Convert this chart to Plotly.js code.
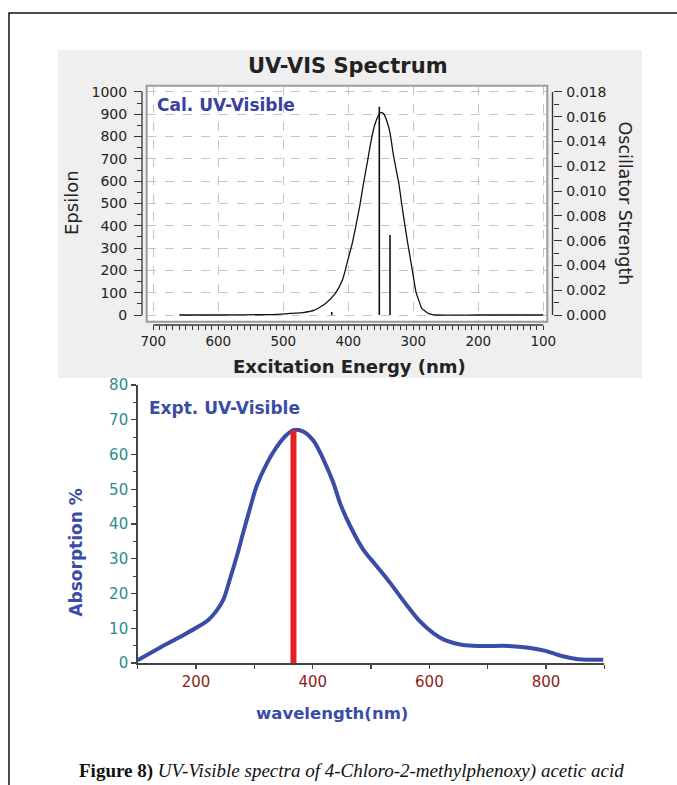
<!DOCTYPE html>
<html>
<head>
<meta charset="utf-8">
<script src="https://cdn.plot.ly/plotly-3.0.1.min.js"></script>
<style>
html,body{margin:0;padding:0;background:#fff;}
#chart{width:677px;height:785px;}
</style>
</head>
<body>
<div id="chart"></div>
<script>
// ---------- DATA ----------
// Calculated spectrum (top panel)
const calNm  = [660, 600, 520, 490, 470, 452, 435, 420, 409, 400, 394, 388, 382, 377, 371, 365, 360, 356, 352, 349, 345, 341, 336, 331, 326, 322, 318, 313, 309, 305, 300, 296, 291, 287, 282, 278, 272, 267, 200, 100];
const calEps = [0, 0, 2, 7, 11, 22, 52, 97, 157, 254, 320, 404, 495, 584, 680, 780, 845, 880, 902, 908, 900, 872, 820, 725, 646, 586, 501, 404, 329, 261, 174, 105, 61, 30, 18, 9, 3, 0, 0, 0];
// Oscillator strength sticks
const stickNm  = [425.5, 352.3, 335.8];
const stickOsc = [0.00025, 0.0168, 0.00645];

// Experimental spectrum (bottom panel)
const exptNm  = [100, 138, 178, 201, 221, 235, 247, 258, 270, 281, 293, 304, 321, 338, 355, 367, 384, 401, 418, 435, 448, 464, 486, 509, 532, 560, 583, 606, 628, 657, 691, 736, 770, 799, 827, 855, 898];
const exptAbs = [0.8, 4.4, 8.0, 10.2, 12.4, 15.0, 18.3, 24.1, 30.8, 37.6, 44.8, 51.0, 57.3, 62.1, 65.6, 67.0, 66.6, 64.0, 58.7, 52.0, 45.5, 39.5, 32.8, 28.0, 23.2, 16.9, 12.1, 8.7, 6.5, 5.2, 4.9, 4.9, 4.4, 3.5, 2.0, 1.1, 0.9];
const exptPeakNm = [367, 367];
const exptPeakAbs = [0, 67];

// Texts
const calTitle = "UV-VIS Spectrum";
const calXTitle = "Excitation Energy (nm)";
const calYTitle = "Epsilon";
const calY2Title = "Oscillator Strength";
const calLabel = "Cal. UV-Visible";
const exptLabel = "Expt. UV-Visible";
const exptXTitle = "wavelength(nm)";
const exptYTitle = "Absorption %";
const caption = "<b>Figure 8)</b> <i>UV-Visible spectra of 4-Chloro-2-methylphenoxy) acetic acid</i>";

// ---------- LAYOUT HELPERS ----------
const W = 677, H = 785;
const px = x => x / W;
const py = y => 1 - y / H;

// stick segments built from stick data
const stickX = [], stickY = [];
stickNm.forEach((v, i) => { stickX.push(v, v, null); stickY.push(0, stickOsc[i], null); });

const epsPerOsc = 1000 / 0.018;
const yRange = [-30, 1028];
const y2Range = [yRange[0] / epsPerOsc, yRange[1] / epsPerOsc];

const combTicks = [];
for (let v = 100; v <= 700; v += 10) combTicks.push(v);

const FONT = 'DejaVu Sans';
const dark = '#222';
const blue = '#3b4ca6';

const traces = [
  {x: calNm, y: calEps, xaxis: 'x', yaxis: 'y', type: 'scatter', mode: 'lines',
   line: {color: '#111', width: 1.3, shape: 'spline', smoothing: 0.5}, hoverinfo: 'skip'},
  {x: stickX, y: stickY, xaxis: 'x', yaxis: 'y2', type: 'scatter', mode: 'lines',
   line: {color: '#111', width: 1.6}, connectgaps: false, hoverinfo: 'skip'},
  {x: exptNm, y: exptAbs, xaxis: 'x2', yaxis: 'y3', type: 'scatter', mode: 'lines',
   line: {color: blue, width: 4, shape: 'spline', smoothing: 0.9}, hoverinfo: 'skip'},
  {x: exptPeakNm, y: exptPeakAbs, xaxis: 'x2', yaxis: 'y3', type: 'scatter', mode: 'lines',
   line: {color: '#e8231f', width: 6}, hoverinfo: 'skip'}
];

const layout = {
  width: W, height: H,
  margin: {l: 0, r: 0, t: 0, b: 0},
  paper_bgcolor: '#fff',
  plot_bgcolor: 'rgba(0,0,0,0)',
  showlegend: false,
  font: {family: FONT, color: dark},
  xaxis: {
    domain: [px(146.7), px(547.3)], range: [710.2, 93.8],
    anchor: 'free', position: py(325),
    showline: false, zeroline: false,
    ticks: 'outside', ticklen: 4, tickwidth: 1, tickcolor: '#333',
    tick0: 0, dtick: 100,
    minor: {tickmode: 'array', tickvals: combTicks, ticks: 'outside', ticklen: 4, tickwidth: 1, tickcolor: '#333', showgrid: false},
    showgrid: true, gridcolor: '#c4c4c4', griddash: 'dash', gridwidth: 1,
    tickfont: {family: FONT, size: 13.5, color: dark}
  },
  yaxis: {
    domain: [py(321.7), py(85.7)], range: yRange,
    anchor: 'free', position: px(142), side: 'left',
    showline: false, zeroline: false,
    ticks: 'outside', ticklen: 8, tickwidth: 1, tickcolor: '#333',
    tick0: 0, dtick: 100, ticklabelstandoff: 4,
    minor: {dtick: 50, ticks: 'outside', ticklen: 5, tickwidth: 1, tickcolor: '#333', showgrid: false},
    showgrid: true, gridcolor: '#c4c4c4', griddash: 'dash', gridwidth: 1,
    tickfont: {family: FONT, size: 14, color: dark}
  },
  yaxis2: {
    overlaying: 'y', side: 'right', range: y2Range,
    anchor: 'free', position: px(552.5),
    showline: false, zeroline: false, showgrid: false,
    ticks: 'outside', ticklen: 8, tickwidth: 1, tickcolor: '#333',
    tick0: 0, dtick: 0.002, tickformat: '.3f', ticklabelstandoff: 2,
    minor: {dtick: 0.001, ticks: 'outside', ticklen: 5, tickwidth: 1, tickcolor: '#333'},
    tickfont: {family: FONT, size: 14, color: dark}
  },
  xaxis2: {
    domain: [px(137.7), px(604.4)], range: [100, 900],
    anchor: 'y3',
    showline: true, linecolor: '#444', linewidth: 1.5, zeroline: false, showgrid: false,
    ticks: 'outside', ticklen: 4, tickwidth: 1.3, tickcolor: '#444',
    tick0: 0, dtick: 200,
    minor: {dtick: 100, ticks: 'outside', ticklen: 4, tickwidth: 1.3, tickcolor: '#444'},
    tickfont: {family: FONT, size: 15, color: '#8c2222'}
  },
  yaxis3: {
    domain: [py(663), py(385)], range: [0, 80],
    anchor: 'x2',
    showline: true, linecolor: '#444', linewidth: 1.5, zeroline: false, showgrid: false,
    ticks: 'outside', ticklen: 5, tickwidth: 1.3, tickcolor: '#444',
    tick0: 0, dtick: 10,
    minor: {dtick: 5, ticks: 'outside', ticklen: 3, tickwidth: 1.2, tickcolor: '#444'},
    tickfont: {family: FONT, size: 15, color: '#2c8c8c'}
  },
  shapes: [
    // outer page frame
    {type: 'rect', xref: 'paper', yref: 'paper', x0: px(9), x1: px(700), y0: py(13), y1: py(820),
     line: {color: '#111', width: 1.5}, fillcolor: 'rgba(0,0,0,0)', layer: 'below'},
    // gray panel
    {type: 'rect', xref: 'paper', yref: 'paper', x0: px(58), x1: px(642), y0: py(50), y1: py(378),
     line: {width: 0}, fillcolor: '#efefef', layer: 'below'},
    // white plotting area
    {type: 'rect', xref: 'paper', yref: 'paper', x0: px(146.7), x1: px(547.3), y0: py(85.7), y1: py(321.7),
     line: {width: 0}, fillcolor: '#ffffff', layer: 'below'},
    // plot frame
    {type: 'rect', xref: 'paper', yref: 'paper', x0: px(146.7), x1: px(547.3), y0: py(85.7), y1: py(321.7),
     line: {color: '#9c9c9c', width: 2}, fillcolor: 'rgba(0,0,0,0)', layer: 'above'},
    // left axis line
    {type: 'line', xref: 'paper', yref: 'y', x0: px(142), x1: px(142), y0: 0, y1: 1000,
     line: {color: '#333', width: 1.3}},
    // right axis line
    {type: 'line', xref: 'paper', yref: 'y2', x0: px(552.5), x1: px(552.5), y0: 0, y1: 0.018,
     line: {color: '#333', width: 1.3}},
    // bottom comb line
    {type: 'line', xref: 'x', yref: 'paper', x0: 700, x1: 100, y0: py(325), y1: py(325),
     line: {color: '#333', width: 1.3}}
  ],
  annotations: [
    {text: '<b>' + calTitle + '</b>', xref: 'paper', yref: 'paper', x: px(348), y: py(66.5),
     xanchor: 'center', yanchor: 'middle', showarrow: false, font: {family: FONT, size: 21, color: dark}},
    {text: '<b>' + calXTitle + '</b>', xref: 'paper', yref: 'paper', x: px(349), y: py(366.7),
     xanchor: 'center', yanchor: 'middle', showarrow: false, font: {family: FONT, size: 18, color: dark}},
    {text: calYTitle, xref: 'paper', yref: 'paper', x: px(72), y: py(203), textangle: -90,
     xanchor: 'center', yanchor: 'middle', showarrow: false, font: {family: FONT, size: 18, color: dark}},
    {text: calY2Title, xref: 'paper', yref: 'paper', x: px(624.5), y: py(203), textangle: 90,
     xanchor: 'center', yanchor: 'middle', showarrow: false, font: {family: FONT, size: 17.5, color: dark}},
    {text: '<b>' + calLabel + '</b>', xref: 'paper', yref: 'paper', x: px(155), y: py(105),
     xanchor: 'left', yanchor: 'middle', showarrow: false, font: {family: FONT, size: 17, color: '#3a419e'}},
    {text: '<b>' + exptLabel + '</b>', xref: 'paper', yref: 'paper', x: px(146.7), y: py(408),
     xanchor: 'left', yanchor: 'middle', showarrow: false, font: {family: FONT, size: 17, color: blue}},
    {text: '<b>' + exptYTitle + '</b>', xref: 'paper', yref: 'paper', x: px(75.6), y: py(553), textangle: -90,
     xanchor: 'center', yanchor: 'middle', showarrow: false, font: {family: FONT, size: 17, color: blue}},
    {text: '<b>' + exptXTitle + '</b>', xref: 'paper', yref: 'paper', x: px(331.5), y: py(713),
     xanchor: 'center', yanchor: 'middle', showarrow: false, font: {family: FONT, size: 16.5, color: blue}},
    {text: caption, xref: 'paper', yref: 'paper', x: px(351.5), y: py(771),
     xanchor: 'center', yanchor: 'middle', showarrow: false, font: {family: 'Liberation Serif', size: 19, color: '#111'}}
  ]
};

Plotly.newPlot('chart', traces, layout, {staticPlot: true, displayModeBar: false});
</script>
</body>
</html>
